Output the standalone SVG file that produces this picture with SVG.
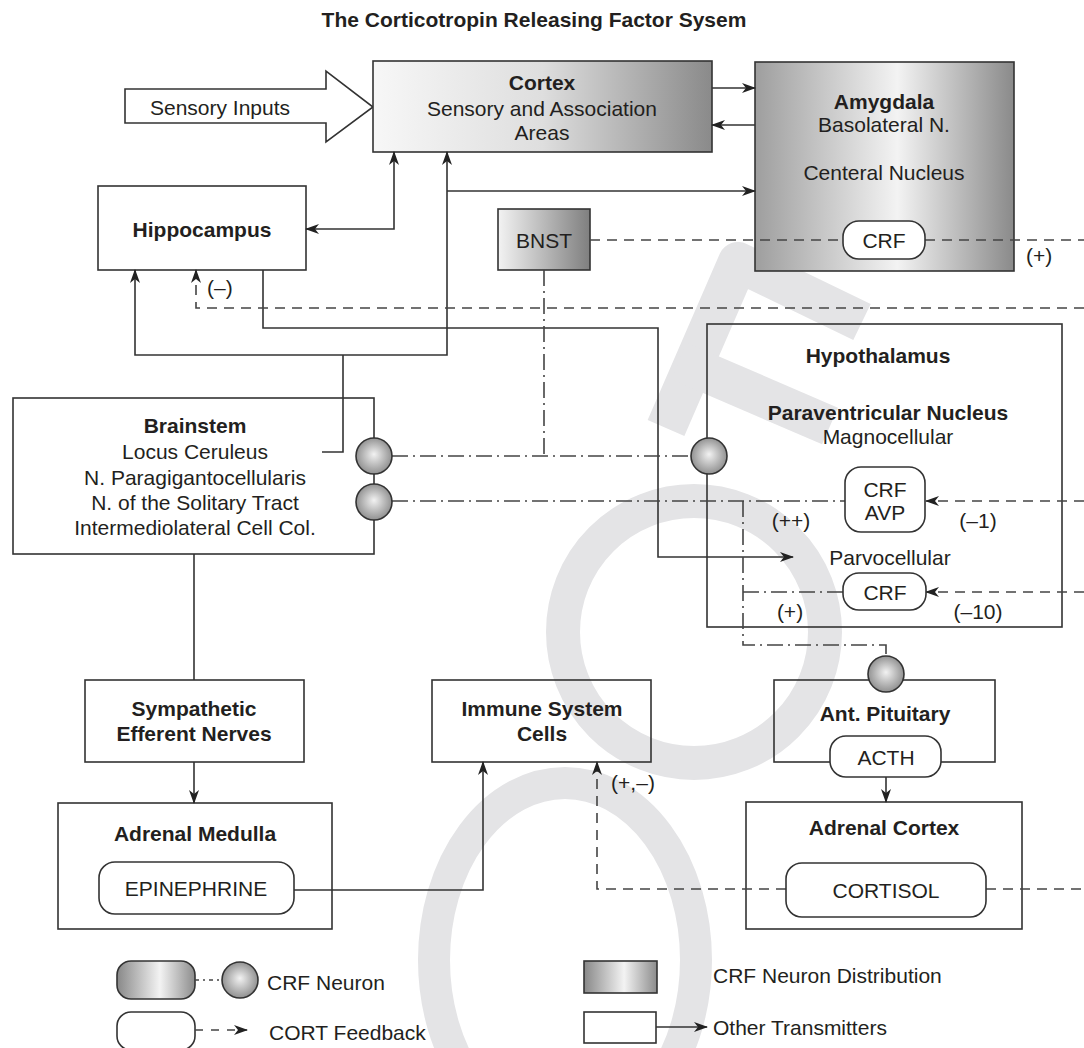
<svg xmlns="http://www.w3.org/2000/svg" width="1084" height="1048" viewBox="0 0 1084 1048">
  <defs>
    <linearGradient id="gCortex" x1="0" y1="0" x2="1" y2="0">
      <stop offset="0" stop-color="#f7f7f7"/>
      <stop offset="0.5" stop-color="#dedede"/>
      <stop offset="1" stop-color="#8a8a8a"/>
    </linearGradient>
    <linearGradient id="gAmyg" x1="0" y1="0" x2="1" y2="0">
      <stop offset="0" stop-color="#9e9e9e"/>
      <stop offset="0.55" stop-color="#f3f3f3"/>
      <stop offset="1" stop-color="#8a8a8a"/>
    </linearGradient>
    <linearGradient id="gBnst" x1="0" y1="0" x2="1" y2="0">
      <stop offset="0" stop-color="#f3f3f3"/>
      <stop offset="1" stop-color="#7f7f7f"/>
    </linearGradient>
    <linearGradient id="gDist" x1="0" y1="0" x2="1" y2="0">
      <stop offset="0" stop-color="#888888"/>
      <stop offset="0.55" stop-color="#f3f3f3"/>
      <stop offset="1" stop-color="#8c8c8c"/>
    </linearGradient>
    <radialGradient id="gBall" cx="0.5" cy="0.5" r="0.55" fx="0.5" fy="0.45">
      <stop offset="0" stop-color="#f2f2f2"/>
      <stop offset="1" stop-color="#888888"/>
    </radialGradient>
    <marker id="arr" viewBox="0 0 14 10" markerWidth="14" markerHeight="10" refX="13" refY="5" orient="auto-start-reverse" markerUnits="userSpaceOnUse">
      <path d="M0,0 L14,5 L0,10 L4,5 z" fill="#222"/>
    </marker>
    <style>
      .box { fill: none; stroke: #333; stroke-width: 1.6; }
      .pill { fill: #ffffff; stroke: #333; stroke-width: 1.6; }
      .ball { fill: url(#gBall); stroke: #333; stroke-width: 1.6; }
      .ln { fill: none; stroke: #333; stroke-width: 1.6; }
      .dash { fill: none; stroke: #444; stroke-width: 1.6; stroke-dasharray: 10 7; }
      .dd { fill: none; stroke: #444; stroke-width: 1.6; stroke-dasharray: 16 5 2 5; }
      .arr { marker-end: url(#arr); }
      .arr2 { marker-start: url(#arr); marker-end: url(#arr); }
      .wm { fill: none; stroke: #e4e4e6; }
      text { font-family: "Liberation Sans", Arial, Helvetica, sans-serif; font-size: 21px; fill: #231f20; }
      .c { text-anchor: middle; }
      .b { font-weight: bold; }
    </style>
  </defs>

  <rect x="0" y="0" width="1084" height="1048" fill="#ffffff"/>

  <!-- faint background mark behind the chart -->
  <g id="backdrop">
    <polyline class="wm" points="862,322 738,262 666,428" stroke-width="40" stroke-linejoin="round"/>
    <line class="wm" x1="679" y1="361" x2="830" y2="426" stroke-width="40"/>
    <circle class="wm" cx="694" cy="632" r="131" stroke-width="34"/>
    <ellipse class="wm" cx="565" cy="960" rx="131" ry="177" stroke-width="32"/>
  </g>

  <text class="c b" x="534" y="27">The Corticotropin Releasing Factor Sysem</text>

  <g id="sensory-inputs">
    <polygon points="125,89 326,89 326,71 373,107 326,142 326,123 125,123" fill="#ffffff" stroke="#333" stroke-width="1.6"/>
    <text class="c" x="220" y="115">Sensory Inputs</text>
  </g>

  <g id="cortex">
    <rect x="373" y="61" width="339" height="91" fill="url(#gCortex)" stroke="#333" stroke-width="1.6"/>
    <text class="c b" x="542" y="90">Cortex</text>
    <text class="c" x="542" y="116">Sensory and Association</text>
    <text class="c" x="542" y="140">Areas</text>
  </g>

  <g id="amygdala">
    <rect x="755" y="62" width="259" height="209" fill="url(#gAmyg)" stroke="#333" stroke-width="1.6"/>
    <text class="c b" x="884" y="109">Amygdala</text>
    <text class="c" x="884" y="132">Basolateral N.</text>
    <text class="c" x="884" y="180">Centeral Nucleus</text>
  </g>

  <g id="hippocampus">
    <rect class="box" x="98" y="186" width="208" height="84"/>
    <text class="c b" x="202" y="237">Hippocampus</text>
  </g>

  <g id="bnst">
    <rect x="498" y="209" width="92" height="61" fill="url(#gBnst)" stroke="#333" stroke-width="1.6"/>
    <text class="c" x="544" y="248">BNST</text>
  </g>

  <g id="hypothalamus">
    <rect class="box" x="707" y="324" width="355" height="303"/>
    <text class="c b" x="878" y="363">Hypothalamus</text>
    <text class="c b" x="888" y="420">Paraventricular Nucleus</text>
    <text class="c" x="888" y="444">Magnocellular</text>
    <text class="c" x="890" y="565">Parvocellular</text>
  </g>

  <g id="brainstem">
    <rect class="box" x="13" y="398" width="361" height="156"/>
    <text class="c b" x="195" y="433">Brainstem</text>
    <text class="c" x="195" y="459">Locus Ceruleus</text>
    <text class="c" x="195" y="485">N. Paragigantocellularis</text>
    <text class="c" x="195" y="510">N. of the Solitary Tract</text>
    <text class="c" x="195" y="535">Intermediolateral Cell Col.</text>
  </g>

  <g id="sympathetic">
    <rect class="box" x="85" y="680" width="219" height="82"/>
    <text class="c b" x="194" y="716">Sympathetic</text>
    <text class="c b" x="194" y="741">Efferent Nerves</text>
  </g>

  <g id="immune">
    <rect class="box" x="432" y="680" width="219" height="82"/>
    <text class="c b" x="542" y="716">Immune System</text>
    <text class="c b" x="542" y="741">Cells</text>
  </g>

  <g id="pituitary">
    <rect class="box" x="774" y="680" width="221" height="82"/>
    <text class="c b" x="885" y="721">Ant. Pituitary</text>
  </g>

  <g id="adrenal-medulla">
    <rect class="box" x="58" y="803" width="274" height="126"/>
    <text class="c b" x="195" y="841">Adrenal Medulla</text>
  </g>

  <g id="adrenal-cortex">
    <rect class="box" x="746" y="802" width="276" height="127"/>
    <text class="c b" x="884" y="835">Adrenal Cortex</text>
  </g>

  <!-- connectors -->
  <g id="connectors">
    <line class="ln arr" x1="712" y1="88" x2="755" y2="88"/>
    <line class="ln arr" x1="755" y1="125" x2="712" y2="125"/>
    <path class="ln arr2" d="M394,152 V229 H306"/>
    <path class="ln arr2" d="M447,152 V355 H135 V270"/>
    <path class="ln" d="M322,452 H343 V355"/>
    <path class="ln arr" d="M447,191 H755"/>
    <path class="ln arr" d="M263,270 V328 H658 V557 H793"/>
    <path class="dash arr" d="M1084,308 H196 V270"/>
    <path class="dash" d="M590,240 H843"/>
    <path class="dash" d="M925,240 H1084"/>
    <path class="dd" d="M544,270 V456"/>
    <path class="dd" d="M392,456 H691"/>
    <path class="dd" d="M392,501 H845"/>
    <path class="dd" d="M743,501 V645 H886 V656"/>
    <path class="dd" d="M743,592 H843"/>
    <path class="dash arr" d="M1084,501 H926"/>
    <path class="dash arr" d="M1084,592 H926"/>
    <path class="ln" d="M194,554 V680"/>
    <path class="ln arr" d="M194,762 V803"/>
    <path class="ln arr" d="M294,890 H483 V762"/>
    <path class="dash arr" d="M786,889 H597 V762"/>
    <path class="dash" d="M986,889 H1084"/>
    <path class="ln arr" d="M886,777 V802"/>
  </g>

  <!-- edge labels -->
  <g id="labels">
    <text x="207" y="295">(–)</text>
    <text x="1026" y="263">(+)</text>
    <text class="c" x="791" y="528">(++)</text>
    <text class="c" x="978" y="528">(–1)</text>
    <text class="c" x="790" y="619">(+)</text>
    <text class="c" x="978" y="619">(–10)</text>
    <text class="c" x="633" y="790">(+,–)</text>
  </g>

  <!-- CRF stores, neuron bodies and hormone pills, drawn over the lines -->
  <g id="amygdala-crf">
    <rect class="pill" x="843" y="221" width="82" height="38" rx="16"/>
    <text class="c" x="884" y="248">CRF</text>
  </g>
  <g id="magno-crf-avp">
    <rect class="pill" x="845" y="467" width="80" height="65" rx="16"/>
    <text class="c" x="885" y="497">CRF</text>
    <text class="c" x="885" y="520">AVP</text>
  </g>
  <g id="parvo-crf">
    <rect class="pill" x="843" y="573" width="83" height="37" rx="16"/>
    <text class="c" x="885" y="600">CRF</text>
  </g>
  <g id="neurons">
    <circle class="ball" cx="709" cy="456" r="18"/>
    <circle class="ball" cx="374" cy="456" r="18"/>
    <circle class="ball" cx="374" cy="502" r="18"/>
    <circle class="ball" cx="886" cy="674" r="18"/>
  </g>
  <g id="acth">
    <rect class="pill" x="830" y="736" width="111" height="41" rx="16"/>
    <text class="c" x="886" y="765">ACTH</text>
  </g>
  <g id="epinephrine">
    <rect class="pill" x="99" y="862" width="195" height="52" rx="16"/>
    <text class="c" x="196" y="896">EPINEPHRINE</text>
  </g>
  <g id="cortisol">
    <rect class="pill" x="786" y="863" width="200" height="54" rx="16"/>
    <text class="c" x="886" y="898">CORTISOL</text>
  </g>

  <!-- key -->
  <g id="legend">
    <rect x="117" y="961" width="78" height="38" rx="14" fill="url(#gDist)" stroke="#333" stroke-width="1.6"/>
    <path class="dd" d="M195,980 H222" style="stroke-dasharray: 4 4 2 4"/>
    <circle class="ball" cx="240" cy="980" r="18"/>
    <text x="267" y="990">CRF Neuron</text>
    <rect class="pill" x="117" y="1012" width="78" height="38" rx="14"/>
    <path class="dash arr" d="M195,1030 H247" style="stroke-dasharray: 8 8"/>
    <text x="269" y="1040">CORT Feedback</text>
    <rect x="584" y="961" width="73" height="32" fill="url(#gDist)" stroke="#333" stroke-width="1.6"/>
    <text x="713" y="983">CRF Neuron Distribution</text>
    <rect class="pill" x="584" y="1012" width="72" height="31"/>
    <path class="ln arr" d="M656,1027 H707"/>
    <text x="713" y="1035">Other Transmitters</text>
  </g>
</svg>
